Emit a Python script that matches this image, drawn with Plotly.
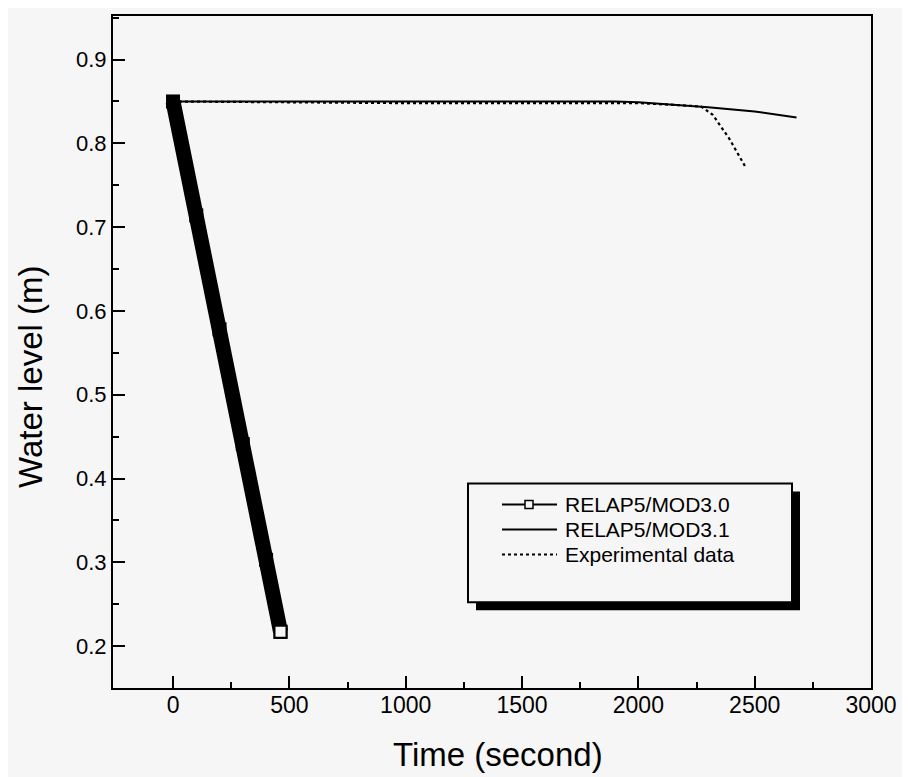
import plotly.graph_objects as go

# RELAP5/MOD3.0 (thick band of overlapping square markers)
mod30_t = [0, 100, 200, 300, 400, 462]
mod30_y = [0.85, 0.714, 0.578, 0.441, 0.303, 0.217]

# RELAP5/MOD3.1 (solid)
mod31_t = [0, 500, 1000, 1500, 1900, 2000, 2200, 2300, 2500, 2600, 2680]
mod31_y = [0.85, 0.85, 0.85, 0.85, 0.85, 0.849, 0.845, 0.843, 0.838, 0.834, 0.831]

# Experimental data (dotted)
exp_t = [0, 500, 1000, 1500, 2000, 2150, 2270, 2320, 2390, 2460]
exp_y = [0.85, 0.849, 0.848, 0.848, 0.848, 0.846, 0.844, 0.834, 0.806, 0.772]

legend_names = ["RELAP5/MOD3.0", "RELAP5/MOD3.1", "Experimental data"]

x_ticks = [0, 500, 1000, 1500, 2000, 2500, 3000]
x_minor = [250, 750, 1250, 1750, 2250, 2750]
y_ticks = [0.2, 0.3, 0.4, 0.5, 0.6, 0.7, 0.8, 0.9]

BG = "#f6f6f6"
FONT = "Liberation Sans, Arial, sans-serif"

# page body adds ~8px, so the figure is placed 8px right/down in the window
OFF = 8
W, H = 910, 777
L, R, T = 113 - OFF, 39 + OFF, 14 - OFF
B = H - (688 - OFF)
PW, PH = W - L - R, H - T - B


def px(x):
    return (x - OFF - L) / PW


def py(y):
    return (H - B - (y - OFF)) / PH


fig = go.Figure()

fig.add_trace(go.Scatter(
    x=mod31_t, y=mod31_y, mode="lines",
    line=dict(color="black", width=2),
    name=legend_names[1], showlegend=False,
))
fig.add_trace(go.Scatter(
    x=exp_t, y=exp_y, mode="lines",
    line=dict(color="black", width=2.2, dash="3px,3px"),
    name=legend_names[2], showlegend=False,
))
fig.add_trace(go.Scatter(
    x=mod30_t, y=mod30_y, mode="lines+markers",
    line=dict(color="black", width=15),
    marker=dict(symbol="square", size=14, color="black"),
    name=legend_names[0], showlegend=False,
))
# open square at the last point
fig.add_trace(go.Scatter(
    x=mod30_t[-1:], y=mod30_y[-1:], mode="markers",
    marker=dict(symbol="square", size=12, color=BG,
                line=dict(color="black", width=2)),
    showlegend=False, hoverinfo="skip",
))

# hand-drawn legend box with shadow
shapes = [
    dict(type="rect", xref="paper", yref="paper",
         x0=px(476), x1=px(800), y0=py(610), y1=py(491),
         fillcolor="black", line=dict(width=0)),
    dict(type="rect", xref="paper", yref="paper",
         x0=px(468), x1=px(792), y0=py(602), y1=py(483),
         fillcolor=BG, line=dict(color="black", width=2)),
]
rows = [504, 529, 554]
dashes = ["solid", "solid", "3px,3px"]
for ry, d in zip(rows, dashes):
    shapes.append(dict(type="line", xref="paper", yref="paper",
                       x0=px(502), x1=px(557), y0=py(ry), y1=py(ry),
                       line=dict(color="black", width=2, dash=d)))
shapes.append(dict(type="rect", xref="paper", yref="paper",
                   x0=px(525), x1=px(533), y0=py(rows[0] + 4), y1=py(rows[0] - 4),
                   fillcolor=BG, line=dict(color="black", width=1.5)))

annotations = []
for ry, name in zip(rows, legend_names):
    annotations.append(dict(
        xref="paper", yref="paper", x=px(563), y=py(ry),
        xanchor="left", yanchor="middle", text=name, showarrow=False,
        font=dict(family=FONT, size=21, color="black"),
    ))

# axis titles placed by hand
annotations.append(dict(
    xref="paper", yref="paper", x=px(498), y=py(755),
    xanchor="center", yanchor="middle", text="Time (second)", showarrow=False,
    font=dict(family=FONT, size=33, color="black"),
))
annotations.append(dict(
    xref="paper", yref="paper", x=px(31), y=py(376), textangle=-90,
    xanchor="center", yanchor="middle", text="Water level (m)", showarrow=False,
    font=dict(family=FONT, size=33, color="black"),
))

fig.update_layout(
    width=W, height=H,
    margin=dict(l=L, r=R, t=T, b=B),
    paper_bgcolor=BG, plot_bgcolor=BG,
    shapes=shapes, annotations=annotations,
    showlegend=False,
    xaxis=dict(
        range=[-258, 3000], tickvals=x_ticks,
        ticks="inside", ticklen=12, tickwidth=2, tickcolor="black",
        minor=dict(tickmode="array", tickvals=x_minor, ticks="inside",
                   ticklen=6, tickwidth=1.5, tickcolor="black"),
        showline=True, linecolor="black", linewidth=2, mirror=True,
        showgrid=False, zeroline=False,
        tickfont=dict(family=FONT, size=23, color="black"),
        ticklabelstandoff=-5,
    ),
    yaxis=dict(
        range=[0.15, 0.952], tickvals=y_ticks,
        ticks="inside", ticklen=12, tickwidth=2, tickcolor="black",
        minor=dict(dtick=0.05, ticks="inside", ticklen=6, tickwidth=1.5, tickcolor="black"),
        showline=True, linecolor="black", linewidth=2, mirror=True,
        showgrid=False, zeroline=False,
        tickfont=dict(family=FONT, size=22, color="black"),
    ),
)

fig.write_html("out.html")
